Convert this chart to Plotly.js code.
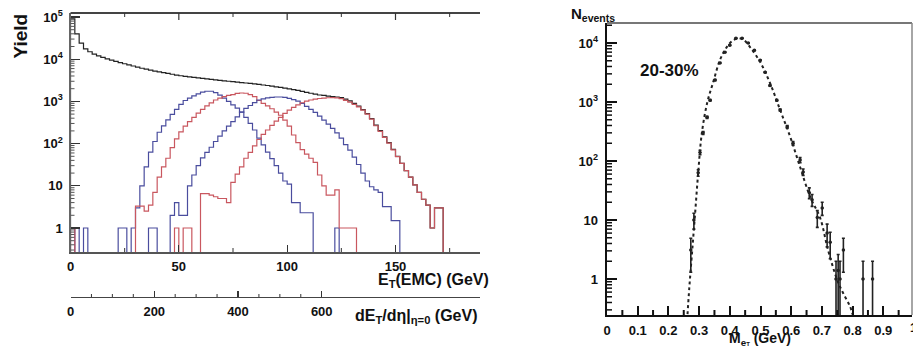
<!DOCTYPE html>
<html>
<head>
<meta charset="utf-8">
<script src="https://cdn.plot.ly/plotly-3.0.1.min.js"></script>
<style>html,body{margin:0;padding:0;background:#fff;}#chart{width:913px;height:352px;}</style>
</head>
<body>
<div id="chart"></div>
<script>
// ---------------- Left panel: E_T(EMC) histograms (bin width 2 GeV) ----------------
const binWidth = 2;
const totalStart = 0;
const totalCounts = [90000, 40000, 24000, 17500, 15000, 13200, 12000, 11000, 10200, 9500,
  8900, 8300, 7800, 7300, 6900, 6500, 6100, 5800, 5500, 5200,
  5000, 4800, 4600, 4400, 4200, 4050, 3900, 3800, 3700, 3600,
  3500, 3400, 3320, 3240, 3160, 3080, 3000, 2930, 2870, 2800,
  2730, 2660, 2590, 2520, 2450, 2380, 2300, 2220, 2140, 2060,
  1980, 1900, 1820, 1730, 1640, 1560, 1480, 1420, 1390, 1340,
  1300, 1270, 1230, 1130, 1030, 900, 770, 640, 515, 390,
  275, 202, 145, 106, 73, 50, 34, 23, 16, 10.5,
  7, 4.8, 3.5, 1, 3, 3];

const blue1Start = 0;
const blue1Counts = [0, 1, 0, 1, 0, 0, 0, 0, 0, 0, 0, 1, 1, 0, 1,
  3, 10, 28, 63, 112, 186, 263, 363, 490, 645, 850, 1050, 1200, 1350, 1510,
  1660, 1740, 1740, 1620, 1410, 1200, 1000, 830, 690, 560, 420, 300, 210, 135, 93,
  63, 44, 30, 20, 13, 11, 4, 4, 2.3, 2.3, 2.3, 0, 0, 0, 0, 0, 1];

const red1Start = 0;
const red1Counts = [1, 0, 0, 0, 0, 0, 0, 0, 0, 0, 0, 0, 0, 0, 0,
  3.3, 3.3, 2.5, 3.5, 7, 16, 28, 45, 80, 130, 190, 260, 330, 420, 530,
  650, 780, 920, 1080, 1200, 1300, 1390, 1450, 1550, 1580, 1560, 1450, 1300, 1050, 900,
  780, 670, 560, 470, 360, 260, 160, 105, 72, 56, 45, 36, 18, 10, 6,
  6, 8, 1, 1, 1, 1];

const blue2Start = 36;
const blue2Counts = [1, 1, 0, 0, 0, 2, 4, 2, 2, 10, 18, 30, 46, 62, 82,
  112, 150, 200, 260, 330, 430, 560, 680, 800, 940, 1080, 1150, 1210, 1250, 1270,
  1270, 1240, 1180, 1100, 1010, 900, 760, 650, 550, 450, 360, 290, 230, 180, 135,
  95, 70, 48, 32, 20, 13, 9.5, 8, 7, 3.2, 3.2, 1.5, 1.5];

const red2Start = 48;
const red2Counts = [1, 0, 1, 1, 0, 0, 6.5, 6.5, 6, 5.5, 5, 5, 4, 12, 19,
  28, 45, 62, 88, 125, 165, 210, 270, 340, 420, 520, 620, 720, 830, 930,
  1010, 1080, 1130, 1170, 1200, 1220, 1230, 1210, 1160, 1060, 960, 850, 740, 620, 500,
  380, 265, 195, 140, 103, 71, 49, 34, 23, 16, 10.5, 7, 4.8, 3.5, 1, 3, 3];

const leftYTickVals = [1, 10, 100, 1000, 10000, 100000];
const leftYTickText = ['1', '10', '10<sup>2</sup>', '10<sup>3</sup>', '10<sup>4</sup>', '10<sup>5</sup>'];
const etTickVals = [0, 50, 100, 150];
const etMinorVals = [25, 75, 125, 175];
const dEtTickVals = [0, 200, 400, 600];
const dEtMinorVals = [50, 100, 150, 250, 300, 350, 450, 500, 550];

// ---------------- Right panel: M_eT distribution, 20-30% ----------------
const fitX = [0.261, 0.268, 0.277, 0.287, 0.297, 0.309, 0.327, 0.346, 0.368, 0.390, 0.410, 0.427, 0.445,
  0.466, 0.499, 0.531, 0.564, 0.597, 0.629, 0.662, 0.694, 0.720, 0.750, 0.769, 0.792, 0.800];
const fitY = [0.2, 0.7, 2.8, 13, 63, 300, 1000, 2170, 5150, 8500, 11000, 12000, 11300,
  8500, 4750, 2100, 730, 255, 79, 24.5, 11, 3.1, 0.96, 0.58, 0.34, 0.25];

const dataX = [0.273, 0.283, 0.297, 0.303, 0.313, 0.326, 0.336, 0.352, 0.368, 0.384, 0.400, 0.420,
  0.440, 0.460, 0.480, 0.499, 0.515, 0.531, 0.553, 0.564, 0.587, 0.606, 0.629, 0.639,
  0.659, 0.668, 0.685, 0.701, 0.717, 0.727, 0.746, 0.753, 0.759, 0.770, 0.834, 0.865];
const dataY = [3.1, 10, 63, 140, 300, 550, 1070, 2350, 4600, 7000, 9200, 12000,
  12000, 10000, 7500, 5100, 3200, 1900, 1070, 730, 380, 200, 104, 65,
  29, 22, 11, 16, 6, 4.2, 1.0, 1.4, 1.0, 3.1, 1.0, 1.0];
const dataErrUp = [1.8, 3, 8, 12, 17, 23, 33, 48, 68, 84, 96, 110,
  110, 100, 87, 71, 57, 44, 33, 27, 19, 14, 10, 8,
  6, 5, 3.5, 4, 2.5, 2, 1, 1.2, 1, 1.8, 1, 1];
const dataErrDown = [1.8, 3, 8, 12, 17, 23, 33, 48, 68, 84, 96, 110,
  110, 100, 87, 71, 57, 44, 33, 27, 19, 14, 10, 8,
  6, 5, 3.5, 4, 2.5, 2, 0.99, 1.2, 0.99, 1.8, 0.99, 0.99];

const rightXTickVals = [0, 0.1, 0.2, 0.3, 0.4, 0.5, 0.6, 0.7, 0.8, 0.9];
const rightXTickText = ['0', '0.1', '0.2', '0.3', '0.4', '0.5', '0.6', '0.7', '0.8', '0.9'];
const rightXMinor = [0.05, 0.15, 0.25, 0.35, 0.45, 0.55, 0.65, 0.75, 0.85, 0.95];
const rightYTickVals = [1, 10, 100, 1000, 10000];
const rightYTickText = ['1', '10', '10<sup>2</sup>', '10<sup>3</sup>', '10<sup>4</sup>'];

// ---------------- geometry & helpers ----------------
const W = 913, H = 352;
const FLOOR = 0.01;
const px = v => v / W;
const py = v => 1 - v / H;
const FONT = 'Liberation Sans, Arial, sans-serif';

const L = { x0: 70.5, x1: 480, y0: 13, y1: 252, xr: [0, 189], yr: [-0.569, 5.095] };
const R = { x0: 607, x1: 912, y0: 23, y1: 315, xr: [0, 0.9935], yr: [-0.61, 4.339] };
const D3 = { y0: 290, y1: 297 };

function logMinor(lo, hi) {
  const out = [];
  for (let d = Math.floor(lo); d <= Math.ceil(hi); d++) {
    for (let m = 2; m <= 9; m++) {
      const v = m * Math.pow(10, d);
      if (Math.log10(v) > lo && Math.log10(v) < hi) out.push(v);
    }
  }
  return out;
}

function stepTrace(start, counts, color, width) {
  const xs = [start], ys = [FLOOR];
  counts.forEach((c, i) => { xs.push(start + i * binWidth); ys.push(c > 0 ? c : FLOOR); });
  xs.push(start + counts.length * binWidth); ys.push(FLOOR);
  return { x: xs, y: ys, xaxis: 'x', yaxis: 'y', type: 'scatter', mode: 'lines',
    line: { shape: 'hv', color: color, width: width }, hoverinfo: 'skip' };
}

// tick-mark shapes (axis decoration)
function xTicks(xref, yref, vals, lenFrac, fromTop, color, width) {
  return vals.map(v => ({ type: 'line', xref: xref, yref: yref, x0: v, x1: v,
    y0: fromTop ? 1 : 0, y1: fromTop ? 1 - lenFrac : lenFrac, line: { color: color, width: width } }));
}
function yLogTicks(xref, yref, vals, range, lenFrac, color, width) {
  return vals.map(v => {
    const f = (Math.log10(v) - range[0]) / (range[1] - range[0]);
    return { type: 'line', xref: xref, yref: yref, x0: 0, x1: lenFrac, y0: f, y1: f, line: { color: color, width: width } };
  });
}

const BLUE = '#4a4d9e', RED = '#c9575f', BLACK = '#222222';

const traces = [
  stepTrace(totalStart, totalCounts, BLACK, 1.2),
  stepTrace(blue1Start, blue1Counts, BLUE, 1.2),
  stepTrace(red1Start, red1Counts, RED, 1.2),
  stepTrace(blue2Start, blue2Counts, BLUE, 1.2),
  stepTrace(red2Start, red2Counts, RED, 1.2),
  { x: fitX, y: fitY, xaxis: 'x4', yaxis: 'y4', type: 'scatter', mode: 'lines',
    line: { color: '#222', width: 2, dash: 'dot', shape: 'spline' }, hoverinfo: 'skip' },
  { x: dataX, y: dataY, xaxis: 'x4', yaxis: 'y4', type: 'scatter', mode: 'markers',
    marker: { color: '#222', size: 3.5 },
    error_y: { type: 'data', array: dataErrUp, arrayminus: dataErrDown, color: '#222', thickness: 1.6, width: 1.5 },
    error_x: { type: 'constant', value: 0.004, color: '#222', thickness: 1, width: 0 },
    hoverinfo: 'skip' }
];

const tickFont = { family: FONT, size: 13, color: '#111', weight: 700 };
const LH = L.y1 - L.y0, LW = L.x1 - L.x0, RH = R.y1 - R.y0, RW = R.x1 - R.x0;

const shapes = [].concat(
  [{ type: 'line', xref: 'x domain', yref: 'y domain', x0: 0, x1: 1, y0: 1, y1: 1, line: { color: '#444', width: 2 } }],
  xTicks('x', 'y domain', etTickVals.slice(1), 7 / LH, true, '#333', 1.2),
  xTicks('x', 'y domain', etMinorVals, 4 / LH, true, '#333', 1),
  xTicks('x', 'y domain', etMinorVals, 4 / LH, false, '#333', 1),
  yLogTicks('x domain', 'y domain', logMinor(L.yr[0], L.yr[1]), L.yr, 4 / LW, '#555', 1),
  xTicks('x3', 'y3 domain', dEtMinorVals, 3 / (D3.y1 - D3.y0), false, '#333', 1),
  [{ type: 'line', xref: 'x4 domain', yref: 'y4 domain', x0: 0, x1: 1, y0: 1, y1: 1, line: { color: '#777', width: 2.2 } },
   { type: 'line', xref: 'x4 domain', yref: 'y4 domain', x0: 1, x1: 1, y0: 0, y1: 1, line: { color: '#888', width: 1.5 } }],
  xTicks('x4', 'y4 domain', rightXMinor, 5 / RH, false, '#111', 2),
  yLogTicks('x4 domain', 'y4 domain', logMinor(R.yr[0], R.yr[1]), R.yr, 5 / RW, '#111', 1.5)
);

const layout = {
  width: W, height: H,
  margin: { l: 0, r: 0, t: 0, b: 0 },
  paper_bgcolor: '#fff', plot_bgcolor: 'rgba(0,0,0,0)',
  showlegend: false,
  font: { family: FONT, color: '#111' },
  xaxis: {
    domain: [px(L.x0), px(L.x1)], anchor: 'y', range: L.xr,
    tickmode: 'array', tickvals: etTickVals, ticktext: etTickVals.map(String),
    ticks: 'inside', ticklen: 7, tickwidth: 1.2, tickcolor: '#333',
    showline: true, linecolor: '#555', linewidth: 1.6,
    showgrid: false, zeroline: false, tickfont: tickFont, ticklabelstandoff: 2
  },
  yaxis: {
    domain: [py(L.y1), py(L.y0)], anchor: 'x', type: 'log', range: L.yr,
    tickmode: 'array', tickvals: leftYTickVals, ticktext: leftYTickText,
    ticks: 'inside', ticklen: 9, tickwidth: 1.2, tickcolor: '#333',
    showline: true, linecolor: '#666', linewidth: 1.2,
    showgrid: false, zeroline: false, tickfont: tickFont, ticklabelstandoff: 4
  },
  xaxis3: {
    domain: [px(L.x0), px(L.x1)], anchor: 'y3', range: [0, 978],
    tickmode: 'array', tickvals: dEtTickVals, ticktext: dEtTickVals.map(String),
    ticks: 'inside', ticklen: 6, tickwidth: 1.2, tickcolor: '#333',
    showline: true, linecolor: '#444', linewidth: 1.3,
    showgrid: false, zeroline: false, tickfont: tickFont, ticklabelstandoff: 2
  },
  yaxis3: { domain: [py(D3.y1), py(D3.y0)], anchor: 'x3', range: [0, 1], showline: false, showticklabels: false,
    ticks: '', showgrid: false, zeroline: false },
  xaxis4: {
    domain: [px(R.x0), px(R.x1)], anchor: 'y4', range: R.xr,
    tickmode: 'array', tickvals: rightXTickVals, ticktext: rightXTickText,
    ticks: 'inside', ticklen: 9, tickwidth: 2, tickcolor: '#111',
    showline: true, linecolor: '#111', linewidth: 2.2,
    showgrid: false, zeroline: false, tickfont: tickFont, ticklabelstandoff: 2
  },
  yaxis4: {
    domain: [py(R.y1), py(R.y0)], anchor: 'x4', type: 'log', range: R.yr,
    tickmode: 'array', tickvals: rightYTickVals, ticktext: rightYTickText,
    ticks: 'inside', ticklen: 10, tickwidth: 2, tickcolor: '#111',
    showline: true, linecolor: '#111', linewidth: 2.4,
    showgrid: false, zeroline: false, tickfont: tickFont, ticklabelstandoff: 4
  },
  shapes: shapes,
  annotations: [
    { text: 'Yield', xref: 'paper', yref: 'paper', x: px(19.5), y: py(36), textangle: -90, xanchor: 'center', yanchor: 'middle',
      showarrow: false, font: { family: FONT, size: 19, color: '#111', weight: 700 } },
    { text: 'E<sub>T</sub>(EMC) (GeV)', xref: 'paper', yref: 'paper', x: px(376), y: py(280), xanchor: 'left', yanchor: 'middle',
      showarrow: false, font: { family: FONT, size: 16, color: '#111', weight: 700 } },
    { text: 'dE<sub>T</sub>/dη|<sub>η=0</sub> (GeV)', xref: 'paper', yref: 'paper', x: px(353), y: py(316), xanchor: 'left', yanchor: 'middle',
      showarrow: false, font: { family: FONT, size: 16, color: '#111', weight: 700 } },
    { text: 'N<sub>events</sub>', xref: 'paper', yref: 'paper', x: px(569), y: py(14), xanchor: 'left', yanchor: 'middle',
      showarrow: false, font: { family: FONT, size: 15, color: '#111', weight: 700 } },
    { text: '20-30%', xref: 'paper', yref: 'paper', x: px(638), y: py(71), xanchor: 'left', yanchor: 'middle',
      showarrow: false, font: { family: FONT, size: 17, color: '#111', weight: 700 } },
    { text: 'M<sub>e<span style="font-size:6px">T</span></sub> (GeV)', xref: 'paper', yref: 'paper', x: px(727), y: py(339), xanchor: 'left', yanchor: 'middle',
      showarrow: false, font: { family: FONT, size: 14, color: '#111', weight: 700 } },
    { text: '1', xref: 'paper', yref: 'paper', x: px(913.7), y: py(327), xanchor: 'center', yanchor: 'middle',
      showarrow: false, font: { family: FONT, size: 13, color: '#111', weight: 700 } }
  ]
};

Plotly.newPlot('chart', traces, layout, { staticPlot: true, displayModeBar: false });
</script>
</body>
</html>
